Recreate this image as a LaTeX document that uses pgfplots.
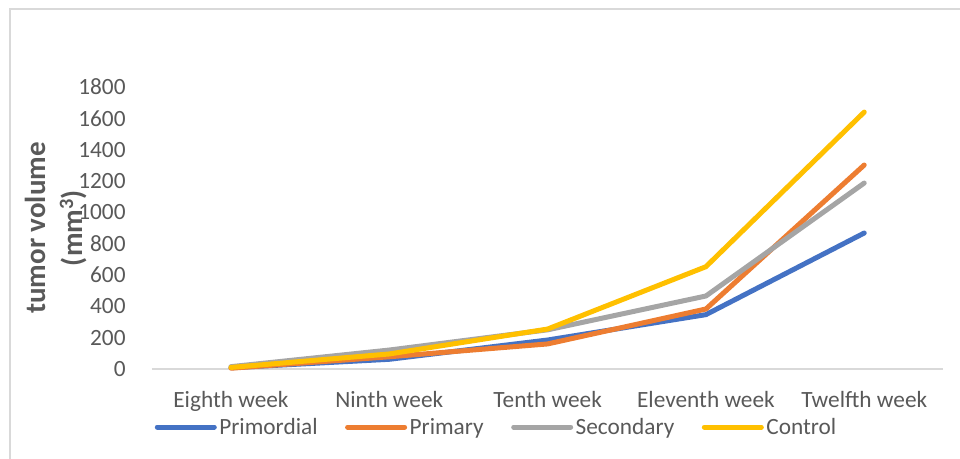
\documentclass[border=0pt]{standalone}
\usepackage{pgfplots}
\pgfplotsset{compat=1.18}
\usepackage{fontspec}
\setmainfont{Carlito}
\definecolor{cblue}{HTML}{4472C4}
\definecolor{corange}{HTML}{ED7D31}
\definecolor{cgray}{HTML}{A5A5A5}
\definecolor{cyellow}{HTML}{FFC000}
\definecolor{txt}{HTML}{595959}
\definecolor{gridc}{HTML}{D9D9D9}
\begin{document}
\begin{tikzpicture}
\path[use as bounding box] (0,0) rectangle (960bp,459bp);
\draw[gridc, line width=1.5bp] (10bp,0) -- (10bp,450bp) -- (960bp,450bp);
\begin{axis}[
  at={(151.8bp,90bp)}, anchor=south west,
  scale only axis, width=791.6bp, height=282bp,
  xmin=-0.5, xmax=4.5, ymin=0, ymax=1800,
  xtick={0,1,2,3,4},
  xticklabels={Eighth week, Ninth week, Tenth week, Eleventh week, Twelfth week},
  ytick={0,200,...,1800},
  /pgf/number format/assume math mode=true,
  /pgf/number format/1000 sep={},
  axis x line*=bottom, axis y line*=left,
  x axis line style={draw=gridc, line width=1.5bp, -},
  y axis line style={draw=none},
  major tick length=0pt, tick style={draw=none},
  ticklabel style={font=\fontsize{23.3bp}{28bp}\selectfont, text=txt},
  xticklabel style={anchor=north, inner sep=0pt, yshift=-22bp},
  yticklabel style={anchor=east, inner sep=0pt, xshift=-26bp},
  ylabel={tumor volume\\(mm\textsuperscript{3})},
  ylabel style={at={(axis description cs:-0.1215,0.5)}, anchor=center, align=center,
    font=\fontsize{29bp}{37bp}\selectfont\bfseries, text=txt},
  clip=false,
  legend columns=4,
  legend style={draw=none, fill=none, inner sep=0pt, outer sep=0pt,
    at={(axis description cs:0,0)}, anchor=west, xshift=3bp, yshift=-58bp,
    font=\fontsize{23.3bp}{28bp}\selectfont, text=txt,
    nodes={inner xsep=2.5bp, inner ysep=0pt},
    column sep=0pt,
    /tikz/every even column/.append style={column sep=25bp}},
  legend image code/.code={\draw[#1, line width=5bp, line cap=round] (2.5bp,0bp) -- (53.5bp,0bp);
    \path (0bp,0bp) -- (57bp,0bp);},
  every axis plot/.append style={line width=5bp, line join=round, line cap=round},
]
\addplot[cblue] coordinates {(0,8) (1,62) (2,185) (3,347) (4,868)};
\addplot[corange] coordinates {(0,5) (1,78) (2,160) (3,383) (4,1302)};
\addplot[cgray] coordinates {(0,15) (1,121) (2,250) (3,466) (4,1187)};
\addplot[cyellow] coordinates {(0,10) (1,96) (2,255) (3,653) (4,1640)};
\legend{Primordial, Primary, Secondary, Control}
\end{axis}
\end{tikzpicture}
\end{document}
